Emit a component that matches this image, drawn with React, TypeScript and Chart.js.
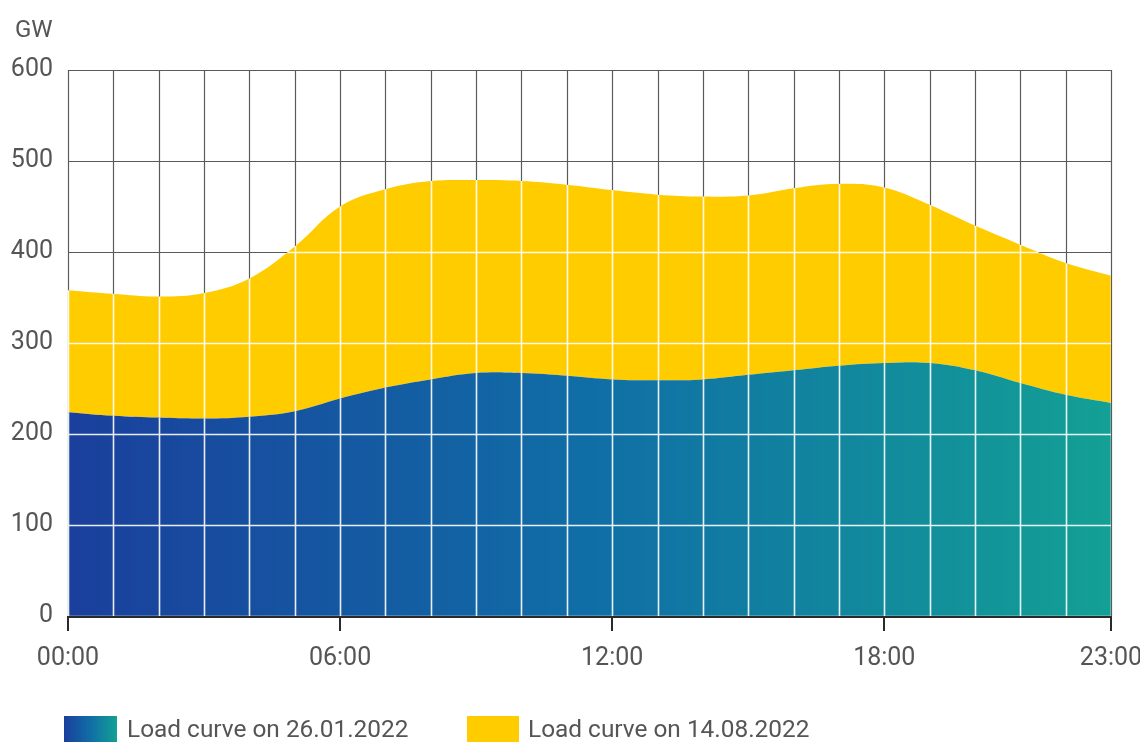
import { useEffect, useRef } from 'react';
import { Chart, registerables } from 'chart.js';

Chart.register(...registerables);

// Hourly grid load in GW
const HOURS = [
  '00:00', '01:00', '02:00', '03:00', '04:00', '05:00', '06:00', '07:00',
  '08:00', '09:00', '10:00', '11:00', '12:00', '13:00', '14:00', '15:00',
  '16:00', '17:00', '18:00', '19:00', '20:00', '21:00', '22:00', '23:00',
];
const LOAD_JAN = [
  224, 220, 218, 217, 219, 225, 239, 251, 260, 267, 267, 264,
  260, 259, 260, 265, 270, 275, 278, 278, 270, 256, 243, 234,
];
const LOAD_AUG = [
  358, 354, 351, 355, 371, 406, 450, 469, 478, 479, 478, 474,
  468, 463, 461, 462, 470, 475, 471, 452, 429, 408, 388, 374,
];
const SHOWN_HOURS = ['00:00', '06:00', '12:00', '18:00', '23:00'];
const Y_TICKS = [0, 100, 200, 300, 400, 500, 600];
const UNIT = 'GW';
const LEGEND_JAN = 'Load curve on 26.01.2022';
const LEGEND_AUG = 'Load curve on 14.08.2022';

const FONT = 'Roboto, "Noto Sans", sans-serif';
const TEXT = '#555555';
const YELLOW = '#ffcc00';
const BLUE_STOPS: [number, string][] = [
  [0, '#1a3f9c'],
  [0.5, '#106ea6'],
  [1, '#13a095'],
];

function blueGradient(ctx: CanvasRenderingContext2D, x0: number, x1: number) {
  const g = ctx.createLinearGradient(x0, 0, x1, 0);
  BLUE_STOPS.forEach(([o, c]) => g.addColorStop(o, c));
  return g;
}

const overlay = {
  id: 'overlay',
  afterDatasetsDraw(chart: any) {
    const { ctx, chartArea: a, scales } = chart;
    const xs = HOURS.map((_, i) => Math.round(scales.x.getPixelForValue(i)) + 0.5);
    const ys = Y_TICKS.map((v) => Math.round(scales.y.getPixelForValue(v)) + 0.5);
    const path = () => {
      ctx.beginPath();
      xs.forEach((px) => {
        ctx.moveTo(px, a.top);
        ctx.lineTo(px, a.bottom);
      });
      ys.forEach((py) => {
        ctx.moveTo(a.left, py);
        ctx.lineTo(a.right, py);
      });
    };
    ctx.save();
    ctx.beginPath();
    ctx.rect(a.left - 3, a.top - 3, a.right - a.left + 6, a.bottom - a.top + 6);
    ctx.clip();
    // white grid over the filled areas
    ctx.globalCompositeOperation = 'source-atop';
    path();
    ctx.strokeStyle = 'rgba(255,255,255,0.9)';
    ctx.lineWidth = 1.6;
    ctx.stroke();
    // grey grid behind, visible on the empty background
    ctx.globalCompositeOperation = 'destination-over';
    path();
    ctx.strokeStyle = '#5a5a5a';
    ctx.lineWidth = 1.2;
    ctx.stroke();
    ctx.restore();

    // x axis line and hour ticks
    ctx.save();
    ctx.strokeStyle = '#2a2a2a';
    ctx.lineWidth = 2;
    ctx.beginPath();
    ctx.moveTo(a.left - 1, a.bottom + 1);
    ctx.lineTo(a.right + 1, a.bottom + 1);
    HOURS.forEach((h, i) => {
      if (!SHOWN_HOURS.includes(h)) return;
      const px = Math.round(scales.x.getPixelForValue(i));
      ctx.moveTo(px, a.bottom);
      ctx.lineTo(px, a.bottom + 15);
    });
    ctx.stroke();
    ctx.restore();
  },
  afterDraw(chart: any) {
    const { ctx } = chart;
    ctx.save();
    ctx.fillStyle = TEXT;
    ctx.textBaseline = 'alphabetic';
    ctx.textAlign = 'left';
    ctx.font = `24px ${FONT}`;
    ctx.fillText(UNIT, 15, 37);

    // legend
    ctx.fillStyle = blueGradient(ctx, 64, 117);
    ctx.fillRect(64, 716, 53, 30);
    ctx.fillStyle = YELLOW;
    ctx.fillRect(467, 716, 52, 30);
    ctx.fillStyle = TEXT;
    ctx.font = `24.4px ${FONT}`;
    ctx.fillText(LEGEND_JAN, 127, 737);
    ctx.fillText(LEGEND_AUG, 528, 737);
    ctx.restore();
  },
};

export default function App() {
  const ref = useRef<HTMLCanvasElement>(null);

  useEffect(() => {
    const canvas = ref.current;
    if (!canvas) return;
    const chart = new Chart(canvas, {
      type: 'line',
      data: {
        labels: HOURS,
        datasets: [
          {
            label: LEGEND_JAN,
            data: LOAD_JAN,
            fill: 'origin',
            backgroundColor: (c: any) => {
              const area = c.chart.chartArea;
              if (!area) return BLUE_STOPS[0][1];
              return blueGradient(c.chart.ctx, area.left, area.right);
            },
            borderWidth: 0,
            pointRadius: 0,
            tension: 0.4,
          },
          {
            label: LEGEND_AUG,
            data: LOAD_AUG,
            fill: '-1',
            backgroundColor: YELLOW,
            borderWidth: 0,
            pointRadius: 0,
            tension: 0.4,
          },
        ],
      },
      options: {
        animation: false,
        responsive: true,
        maintainAspectRatio: false,
        layout: { padding: { top: 70, right: 29, bottom: 0, left: 0 } },
        plugins: {
          legend: { display: false },
          tooltip: { enabled: false },
        },
        scales: {
          x: {
            type: 'category',
            offset: false,
            grid: { display: false, drawTicks: false },
            border: { display: false },
            ticks: {
              autoSkip: false,
              maxRotation: 0,
              minRotation: 0,
              padding: 28,
              color: TEXT,
              font: { family: FONT, size: 25 },
              callback: (_v: any, i: number) =>
                SHOWN_HOURS.includes(HOURS[i]) ? HOURS[i] : '',
            },
            afterFit: (s: any) => {
              s.height = 126;
              s.paddingLeft = 0;
              s.paddingRight = 0;
            },
          },
          y: {
            min: 0,
            max: 600,
            grid: { display: false, drawTicks: false },
            border: { display: false },
            ticks: {
              stepSize: 100,
              padding: 15,
              color: TEXT,
              font: { family: FONT, size: 25 },
            },
            afterFit: (s: any) => {
              s.width = 68;
              s.paddingTop = 0;
              s.paddingBottom = 0;
            },
          },
        },
      },
      plugins: [overlay],
    } as any);
    return () => chart.destroy();
  }, []);

  return (
    <div style={{ position: 'absolute', left: 0, top: 0, width: 1140, height: 742, background: '#ffffff' }}>
      <canvas ref={ref} />
    </div>
  );
}
